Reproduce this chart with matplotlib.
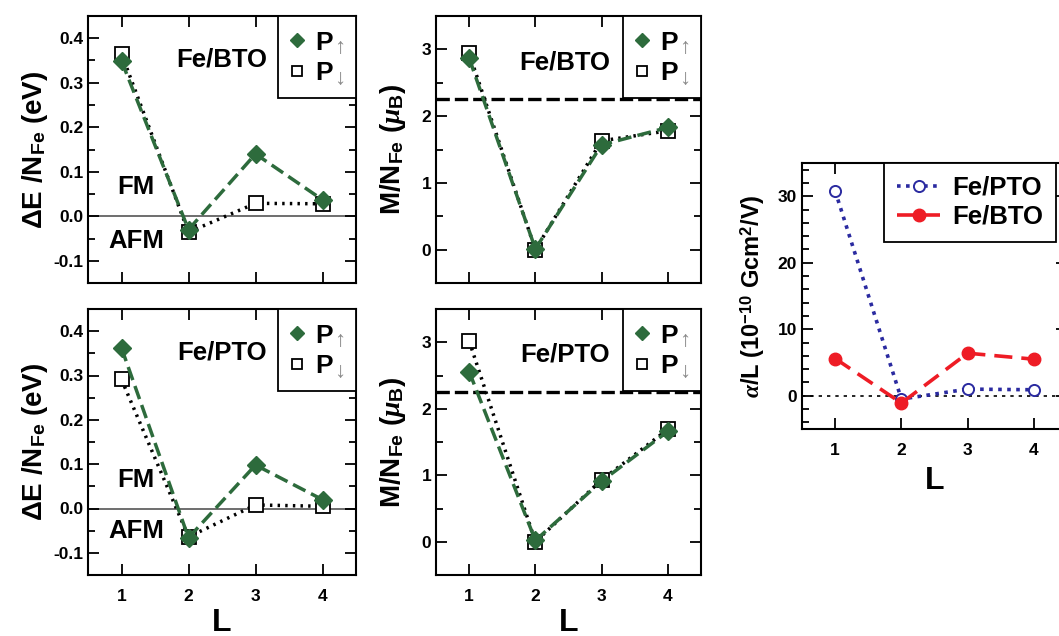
import matplotlib
matplotlib.use('Agg')
import matplotlib.pyplot as plt
from matplotlib.ticker import MultipleLocator
from matplotlib.offsetbox import TextArea, HPacker

# DATA
L = [1, 2, 3, 4]

# energy difference per Fe (eV)
dE_bto_up = [0.349, -0.030, 0.140, 0.037]
dE_bto_dn = [0.365, -0.036, 0.029, 0.028]
dE_pto_up = [0.362, -0.066, 0.098, 0.020]
dE_pto_dn = [0.291, -0.064, 0.008, 0.005]

# magnetic moment per Fe (mu_B)
M_bto_up = [2.87, 0.01, 1.57, 1.83]
M_bto_dn = [2.94, 0.00, 1.63, 1.78]
M_pto_up = [2.56, 0.02, 0.91, 1.66]
M_pto_dn = [3.02, 0.00, 0.93, 1.69]
M_bulk = 2.25

# magnetoelectric coefficient alpha/L
alpha_pto = [30.8, -0.5, 1.0, 0.9]
alpha_bto = [5.6, -1.1, 6.4, 5.5]

# STYLE
plt.rcParams['font.family'] = ['Liberation Sans', 'DejaVu Sans']
plt.rcParams['font.weight'] = 'bold'
plt.rcParams['mathtext.fontset'] = 'custom'
plt.rcParams['mathtext.rm'] = 'Liberation Sans:bold'
plt.rcParams['mathtext.bf'] = 'Liberation Sans:bold'
plt.rcParams['mathtext.it'] = 'Liberation Serif:italic'
plt.rcParams['mathtext.fallback'] = 'cm'

green = '#2d6b3c'
red = '#ee1c25'
blue = '#2a2aa0'

fig = plt.figure(figsize=(10.59, 6.36), dpi=100)
W, H = 1059, 636


def make_ax(x0, x1, y0, y1):
    return fig.add_axes([x0 / W, 1 - y1 / H, (x1 - x0) / W, (y1 - y0) / H])


def style(ax, minor, show_x):
    ax.set_xlim(0.5, 4.5)
    ax.set_xticks(L)
    ax.yaxis.set_minor_locator(MultipleLocator(minor))
    ax.tick_params(which='both', direction='in', top=True, right=True,
                   width=1.3, labelsize=12.5)
    ax.tick_params(which='major', length=8)
    ax.tick_params(which='minor', length=5)
    ax.tick_params(axis='x', pad=10)
    for s in ax.spines.values():
        s.set_linewidth(1.5)
    for lab in ax.get_xticklabels() + ax.get_yticklabels():
        lab.set_fontweight('bold')
    if show_x:
        ax.set_xlabel('L', fontsize=23, fontweight='bold', labelpad=3)
    else:
        ax.set_xticklabels([])


def pair_plot(ax, up, dn):
    h_dn, = ax.plot(L, dn, linestyle=(0, (0.7, 1.5)), color='black', lw=2.5,
                    marker='s', ms=10, mfc='white', mec='black', mew=1.3, zorder=3)
    h_up, = ax.plot(L, up, linestyle=(0, (4, 1.8)), color=green, lw=2.5,
                    marker='D', ms=9, mfc=green, mec=green, zorder=4)
    leg = ax.legend([h_up, h_dn], ['P', 'P'], loc='upper right',
                    borderaxespad=0, fancybox=False, edgecolor='black',
                    framealpha=1, fontsize=19, handlelength=0.6,
                    handletextpad=0.4, labelspacing=0.0, borderpad=0.4)
    leg.get_frame().set_linewidth(1.3)
    for ln in leg.get_lines():
        ln.set_linestyle('none')
        ln.set_markersize(7)
    # gray subscript arrows after the "P"
    rows = leg._legend_handle_box.get_children()[0].get_children()
    for row, arrow in zip(rows, ['\\uparrow', '\\downarrow']):
        p = TextArea('P', textprops=dict(fontsize=19, fontweight='bold'))
        a = TextArea('$_{%s}$' % arrow,
                     textprops=dict(fontsize=23, color='#8a8a8a', fontweight='normal'))
        hp = HPacker(children=[p, a], pad=0, sep=-1, align='baseline')
        hp.set_figure(fig)
        p.set_figure(fig)
        a.set_figure(fig)
        row._children[1] = hp


# ENERGY PANELS
for (y0, y1, up, dn, name, fm, afm, show_x) in [
        (16, 283, dE_bto_up, dE_bto_dn, 'Fe/BTO', 0.066, -0.056, False),
        (309, 575, dE_pto_up, dE_pto_dn, 'Fe/PTO', 0.065, -0.050, True)]:
    ax = make_ax(88, 356, y0, y1)
    ax.axhline(0, color='#555555', lw=1.2, zorder=1)
    pair_plot(ax, up, dn)
    ax.set_ylim(-0.15, 0.45)
    ax.set_yticks([-0.1, 0.0, 0.1, 0.2, 0.3, 0.4])
    ax.set_yticklabels(['-0.1', '0.0', '0.1', '0.2', '0.3', '0.4'])
    style(ax, 0.05, show_x)
    ax.set_ylabel('ΔE /N$_{\\mathregular{Fe}}$ (eV)', fontsize=20, fontweight='bold', labelpad=2)
    ax.text(2.5, 0.353, name, fontsize=18.5, fontweight='bold', ha='center', va='center')
    ax.text(1.22, fm, 'FM', fontsize=18.5, fontweight='bold', ha='center', va='center')
    ax.text(1.22, afm, 'AFM', fontsize=18.5, fontweight='bold', ha='center', va='center')

# MOMENT PANELS
for (y0, y1, up, dn, name, show_x) in [
        (16, 283, M_bto_up, M_bto_dn, 'Fe/BTO', False),
        (309, 575, M_pto_up, M_pto_dn, 'Fe/PTO', True)]:
    ax = make_ax(436, 701, y0, y1)
    ax.axhline(M_bulk, color='black', lw=2.4, linestyle=(0, (4, 1.5)), zorder=1)
    pair_plot(ax, up, dn)
    ax.set_ylim(-0.5, 3.5)
    ax.set_yticks([0, 1, 2, 3])
    style(ax, 0.5, show_x)
    ax.set_ylabel('M/N$_{\\mathregular{Fe}}$ ($\\mu_{\\mathregular{B}}$)', fontsize=20,
                  fontweight='bold', labelpad=10)
    ax.text(2.45, 2.81, name, fontsize=18.5, fontweight='bold', ha='center', va='center')

# ALPHA PANEL
ax = make_ax(802, 1067, 163, 429)
ax.axhline(0, color='black', lw=1.2, linestyle=(0, (2, 3)), zorder=1)
ax.plot(L, alpha_pto, linestyle=(0, (1, 1.5)), color=blue, lw=2.6, marker='o',
        ms=8, mfc='white', mec=blue, mew=1.4, label='Fe/PTO', zorder=3)
ax.plot(L, alpha_bto, linestyle=(0, (5, 2.5)), color=red, lw=2.6, marker='o',
        ms=9, mfc=red, mec=red, label='Fe/BTO', zorder=4)
ax.set_ylim(-5, 35)
ax.set_yticks([0, 10, 20, 30])
style(ax, 2, True)
ax.set_ylabel('$\\alpha$/L (10$^{\\mathregular{-10}}$ Gcm$^{\\mathregular{2}}$/V)',
              fontsize=17, fontweight='bold', labelpad=8)
ax.xaxis.labelpad = 6
leg = ax.legend(loc='upper right', bbox_to_anchor=(0.958, 1.0), borderaxespad=0,
                fancybox=False, edgecolor='black', framealpha=1, fontsize=18.5,
                handlelength=1.7, handletextpad=0.45, labelspacing=0.2, borderpad=0.5)
leg.get_frame().set_linewidth(1.3)

fig.savefig('out.png', dpi=100)
